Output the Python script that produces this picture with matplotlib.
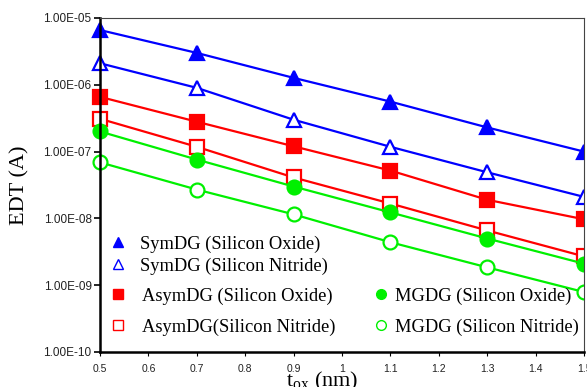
import matplotlib
matplotlib.use("Agg")
import matplotlib.pyplot as plt
from matplotlib.lines import Line2D
from matplotlib.patches import Rectangle
from matplotlib.ticker import FixedLocator, FuncFormatter

plt.rcParams["mathtext.fontset"] = "custom"
plt.rcParams["mathtext.rm"] = "Liberation Serif"

# Oxide thickness (nm)
t_ox = [0.5, 0.7, 0.9, 1.1, 1.3, 1.5]

# EDT current (A) per device / dielectric
symdg_oxide = [6.6e-6, 3.0e-6, 1.27e-6, 5.6e-7, 2.3e-7, 1.0e-7]
symdg_nitride = [2.1e-6, 9.0e-7, 3.0e-7, 1.18e-7, 4.9e-8, 2.1e-8]
asymdg_oxide = [6.6e-7, 2.8e-7, 1.2e-7, 5.2e-8, 1.9e-8, 9.7e-9]
asymdg_nitride = [3.1e-7, 1.18e-7, 4.1e-8, 1.67e-8, 6.6e-9, 2.7e-9]
mgdg_oxide = [2.0e-7, 7.6e-8, 3.0e-8, 1.23e-8, 5.0e-9, 2.1e-9]
mgdg_nitride = [6.9e-8, 2.7e-8, 1.15e-8, 4.4e-9, 1.85e-9, 7.9e-10]

y_ticks = [1e-10, 1e-9, 1e-8, 1e-7, 1e-6, 1e-5]
x_ticks = [0.5, 0.6, 0.7, 0.8, 0.9, 1.0, 1.1, 1.2, 1.3, 1.4, 1.5]

BLUE, RED, GREEN = "#0000ff", "#ff0000", "#00f000"

fig = plt.figure(figsize=(5.87, 3.87), dpi=100)
left, right, bottom, top = 100 / 587, 584 / 587, 1 - 352 / 387, 1 - 18 / 387
ax = fig.add_axes([left, bottom, right - left, top - bottom])

series = [
    (symdg_oxide, BLUE, "^", True),
    (symdg_nitride, BLUE, "^", False),
    (asymdg_oxide, RED, "s", True),
    (asymdg_nitride, RED, "s", False),
    (mgdg_oxide, GREEN, "o", True),
    (mgdg_nitride, GREEN, "o", False),
]

# markers spill past the left axis but are cut at the right border
clip = Rectangle((0, 0), right, 1, transform=fig.transFigure, facecolor="none")
for vals, col, mk, filled in series:
    ln, = ax.plot(t_ox, vals, color=col, lw=1.6, marker=mk, ms=10,
                  markerfacecolor=col if filled else "white",
                  markeredgecolor=col, markeredgewidth=1.6)
    ln.set_clip_path(clip)

ax.set_yscale("log")
ax.set_xlim(0.5, 1.5)
ax.set_ylim(1e-10, 1e-5)
ax.yaxis.set_major_locator(FixedLocator(y_ticks))
ax.yaxis.set_minor_locator(FixedLocator([]))
ax.yaxis.set_major_formatter(FuncFormatter(lambda v, p: "{:.2E}".format(v)))
ax.xaxis.set_major_locator(FixedLocator(x_ticks))
ax.xaxis.set_major_formatter(FuncFormatter(lambda v, p: "{:g}".format(v)))

ax.tick_params(axis="y", which="major", direction="out", length=4, width=1.2,
               labelsize=8.5, pad=2, labelfontfamily="Liberation Sans",
               labelcolor="#222222")
ax.tick_params(axis="x", which="major", direction="out", length=3, width=0.8,
               labelsize=7.5, pad=6, labelfontfamily="Liberation Sans",
               labelcolor="#222222")

for s in ("left", "bottom"):
    ax.spines[s].set_linewidth(1.8)
    ax.spines[s].set_color("black")
for s in ("top", "right"):
    ax.spines[s].set_linewidth(0.8)
    ax.spines[s].set_color("#444444")

ax.set_ylabel("EDT (A)", family="Liberation Serif", fontsize=16)
ax.yaxis.set_label_coords((20 - 100) / 484, 0.5)
ax.yaxis.label.set_va("center")
ax.set_xlabel(r"t$_{\mathregular{ox}}$ (nm)", family="Liberation Serif",
              fontsize=16)
ax.xaxis.set_label_coords((322 - 100) / 484, -0.055)


def handle(col, mk, filled):
    return Line2D([], [], ls="none", marker=mk, ms=7, color=col,
                  markerfacecolor=col if filled else "white",
                  markeredgecolor=col, markeredgewidth=1.0)


lfont = {"family": "Liberation Serif", "size": 13.3}
common = dict(prop=lfont, frameon=False, loc="center left", handlelength=0.8,
              borderpad=0, borderaxespad=0)

leg_sym = ax.legend([handle(BLUE, "^", True), handle(BLUE, "^", False)],
                    ["SymDG (Silicon Oxide)", "SymDG (Silicon Nitride)"],
                    bbox_to_anchor=(0.0219, 0.2904), handletextpad=0.79,
                    labelspacing=0.25, **common)
ax.add_artist(leg_sym)
leg_asym = ax.legend([handle(RED, "s", True), handle(RED, "s", False)],
                     ["AsymDG (Silicon Oxide)", "AsymDG(Silicon Nitride)"],
                     bbox_to_anchor=(0.0219, 0.1213), handletextpad=0.92,
                     labelspacing=0.74, **common)
ax.add_artist(leg_asym)
ax.legend([handle(GREEN, "o", True), handle(GREEN, "o", False)],
          ["MGDG (Silicon Oxide)", "MGDG (Silicon Nitride)"],
          bbox_to_anchor=(0.5653, 0.1213), handletextpad=0.36,
          labelspacing=0.74, **common)

fig.savefig("out.png", dpi=100)
